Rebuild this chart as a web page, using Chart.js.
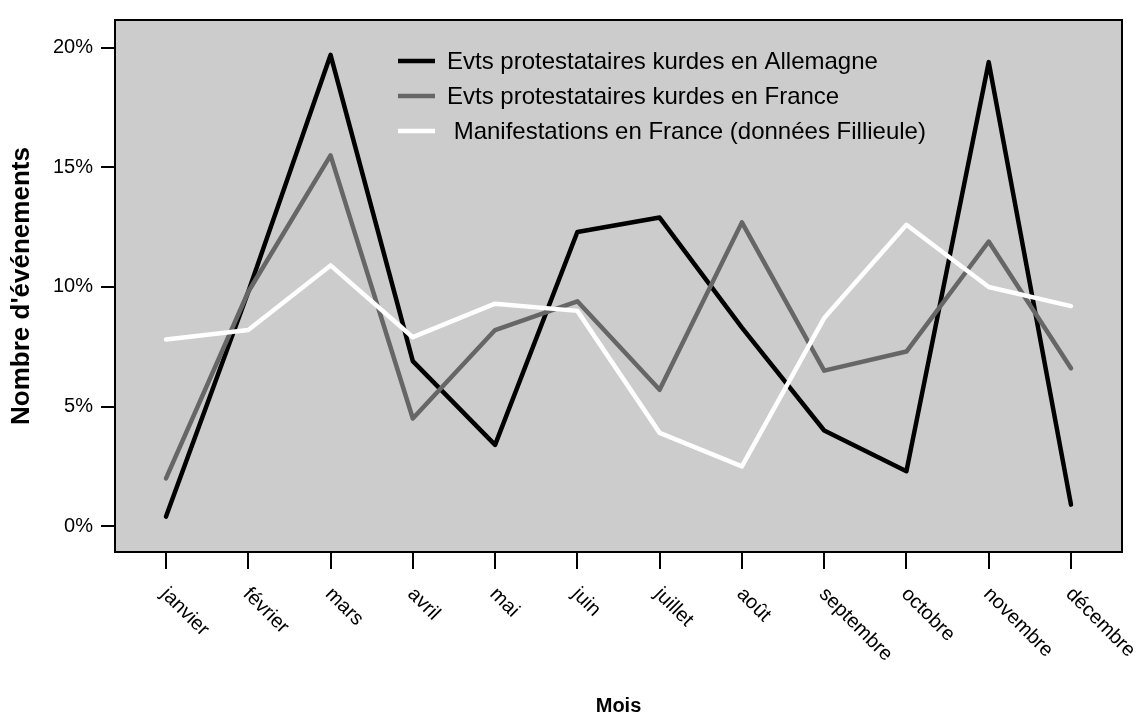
<!DOCTYPE html>
<html>
<head>
<meta charset="utf-8">
<script src="https://cdn.jsdelivr.net/npm/chart.js@4/dist/chart.umd.min.js"></script>
<style>
  html, body { margin: 0; padding: 0; background: #fff; }
</style>
</head>
<body>
<canvas id="myChart" width="1141" height="715"></canvas>
<script>
// donnees (en %)
const mois = ['janvier', 'février', 'mars', 'avril', 'mai', 'juin', 'juillet', 'août', 'septembre', 'octobre', 'novembre', 'décembre'];
const kurdesAllemagne = [0.4, 9.8, 19.7, 6.9, 3.4, 12.3, 12.9, 8.3, 4.0, 2.3, 19.4, 0.9];
const kurdesFrance = [2.0, 9.8, 15.5, 4.5, 8.2, 9.4, 5.7, 12.7, 6.5, 7.3, 11.9, 6.6];
const manifFrance = [7.8, 8.2, 10.9, 7.9, 9.3, 9.0, 3.9, 2.5, 8.7, 12.6, 10.0, 9.2];
const yTicks = [0, 5, 10, 15, 20];
const legendes = ['Evts protestataires kurdes en Allemagne', 'Evts protestataires kurdes en France', ' Manifestations en France (données Fillieule)'];
const couleurs = ['#000000', '#666666', '#ffffff'];

const police = '"Liberation Sans", Arial, sans-serif';
Chart.defaults.font.family = police;
Chart.defaults.color = '#000';

function points(vals) {
  return vals.map((v, i) => ({ x: i, y: v }));
}

const cadre = {
  id: 'cadre',
  beforeDraw(chart) {
    const a = chart.chartArea;
    const ctx = chart.ctx;
    ctx.save();
    ctx.fillStyle = '#cccccc';
    ctx.fillRect(a.left, a.top, a.right - a.left, a.bottom - a.top);
    ctx.restore();
  },
  afterDraw(chart) {
    const a = chart.chartArea;
    const ctx = chart.ctx;
    ctx.save();
    ctx.strokeStyle = '#000';
    ctx.lineWidth = 2;
    ctx.strokeRect(a.left, a.top, a.right - a.left, a.bottom - a.top);

    // etiquettes des mois, tournees a 45 degres
    const sx = chart.scales.x;
    ctx.fillStyle = '#000';
    ctx.font = '20px ' + police;
    ctx.textAlign = 'left';
    ctx.textBaseline = 'alphabetic';
    mois.forEach((m, i) => {
      const px = sx.getPixelForValue(i);
      ctx.save();
      ctx.translate(px - 6, 595);
      ctx.rotate(Math.PI / 4);
      ctx.fillText(m, 0, 0);
      ctx.restore();
    });

    // legende dans le cadre
    ctx.font = '24px ' + police;
    ctx.textBaseline = 'middle';
    const ys = [61, 96, 131];
    legendes.forEach((txt, i) => {
      ctx.strokeStyle = couleurs[i];
      ctx.lineWidth = 4.5;
      ctx.beginPath();
      ctx.moveTo(398, ys[i]);
      ctx.lineTo(435, ys[i]);
      ctx.stroke();
      ctx.fillStyle = '#000';
      ctx.fillText(txt, 447, ys[i] + 1);
    });
    ctx.restore();
  }
};

const ctx = document.getElementById('myChart').getContext('2d');

const chart = new Chart(ctx, {
  type: 'line',
  data: {
    datasets: [{
      label: legendes[0],
      data: points(kurdesAllemagne),
      borderColor: couleurs[0],
      order: 3
    }, {
      label: legendes[1],
      data: points(kurdesFrance),
      borderColor: couleurs[1],
      order: 2
    }, {
      label: legendes[2],
      data: points(manifFrance),
      borderColor: couleurs[2],
      order: 1
    }]
  },
  options: {
    responsive: false,
    animation: false,
    layout: { padding: { top: 15, right: 19, left: 0, bottom: 0 } },
    elements: {
      line: { borderWidth: 4.5, tension: 0, borderJoinStyle: 'round', borderCapStyle: 'round', fill: false },
      point: { radius: 0, hoverRadius: 0 }
    },
    plugins: {
      legend: { display: false },
      tooltip: { enabled: false }
    },
    scales: {
      x: {
        type: 'linear',
        min: -0.62,
        max: 11.62,
        afterBuildTicks: s => { s.ticks = mois.map((m, i) => ({ value: i })); },
        afterFit: s => { s.height = 163; },
        ticks: { display: false },
        grid: { drawOnChartArea: false, color: '#000', lineWidth: 2, tickLength: 17 },
        border: { display: false },
        title: { display: true, text: 'Mois', font: { size: 20, weight: 'bold' }, padding: { bottom: -3 } }
      },
      y: {
        min: -1.08,
        max: 21.16,
        afterBuildTicks: s => { s.ticks = yTicks.map(v => ({ value: v })); },
        afterFit: s => { s.width = 115; },
        ticks: { callback: v => v + '%', font: { size: 20 }, color: '#000', padding: 8 },
        grid: { drawOnChartArea: false, color: '#000', lineWidth: 2, tickLength: 14 },
        border: { display: false },
        title: { display: true, text: "Nombre d'événements", font: { size: 26, weight: 'bold' }, padding: { top: 6 } }
      }
    }
  },
  plugins: [cadre]
});
</script>
</body>
</html>
